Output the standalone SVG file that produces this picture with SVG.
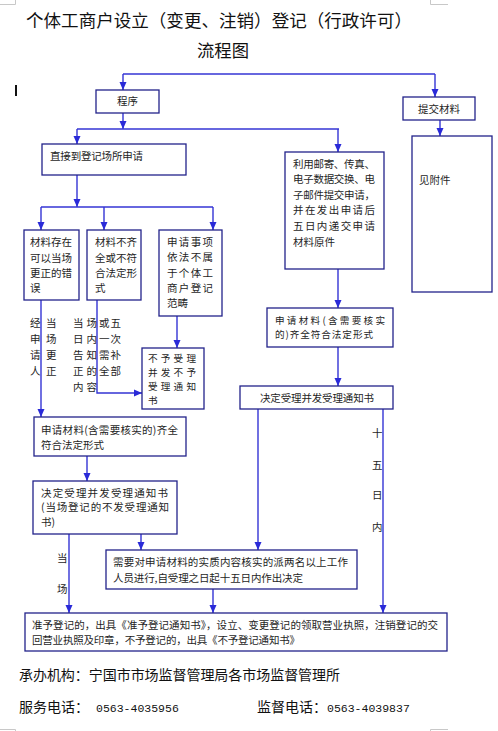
<svg xmlns="http://www.w3.org/2000/svg" width="498" height="731" viewBox="0 0 498 731">
<style>
.bx{fill:#fff;stroke:#23238a;stroke-width:1.3}
.cn{fill:none;stroke:#3434d4;stroke-width:1.4}
.t{font-family:"Noto Sans CJK SC","Noto Sans",sans-serif;font-size:10.5px;fill:#1e1e1e}
.t2{font-family:"Noto Sans CJK SC","Noto Sans",sans-serif;font-size:9.6px;fill:#1e1e1e}
.ti{font-family:"Noto Sans CJK SC","Noto Sans",sans-serif;font-size:17.5px;fill:#111}
.ft{font-family:"Noto Sans CJK SC","Noto Sans",sans-serif;font-size:14px;fill:#111}
.num{font-family:"Liberation Mono",monospace;font-size:11.5px;fill:#111}
.mk{fill:none;stroke:#c8c8c8;stroke-width:1}
</style>
<defs>
<marker id="ah" markerUnits="userSpaceOnUse" markerWidth="8" markerHeight="8" viewBox="0 0 8 8" refX="8" refY="4" orient="auto">
<path d="M0,0.5 L8,4 L0,7.5 Z" fill="#2a2ad8"/>
</marker>
</defs>
<path class="mk" d="M0,4.5 H15.5 V0 M448,4.5 H430.5 V0 M0,729.5 H15.5 V731 M448,729.5 H430.5 V731"/>
<rect x="15" y="85" width="2" height="11" fill="#111"/>
<text class="ti" x="26" y="26.5" textLength="386" lengthAdjust="spacingAndGlyphs">个体工商户设立（变更、注销）登记（行政许可）</text>
<text class="ti" x="197" y="56.5" textLength="52" lengthAdjust="spacingAndGlyphs">流程图</text>

<g id="connectors">
<path class="cn" d="M123,74 H435"/>
<path class="cn" d="M123,74 V90" marker-end="url(#ah)"/>
<path class="cn" d="M435,74 V97" marker-end="url(#ah)"/>
<path class="cn" d="M123,113 V129" marker-end="url(#ah)"/>
<path class="cn" d="M77,129 H339"/>
<path class="cn" d="M77,129 V144" marker-end="url(#ah)"/>
<path class="cn" d="M338,129 V152" marker-end="url(#ah)"/>
<path class="cn" d="M440,120 V136" marker-end="url(#ah)"/>
<path class="cn" d="M77,175 V207" marker-end="url(#ah)"/>
<path class="cn" d="M41,207 H213"/>
<path class="cn" d="M41,207 V230" marker-end="url(#ah)"/>
<path class="cn" d="M104,207 V230" marker-end="url(#ah)"/>
<path class="cn" d="M213,207 V230" marker-end="url(#ah)"/>
<path class="cn" d="M41,300 V417" marker-end="url(#ah)"/>
<path class="cn" d="M97,300 V393 H142" marker-end="url(#ah)"/>
<path class="cn" d="M177,316 V348" marker-end="url(#ah)"/>
<path class="cn" d="M338,269 V308" marker-end="url(#ah)"/>
<path class="cn" d="M338,347 V386" marker-end="url(#ah)"/>
<path class="cn" d="M87,456 V481" marker-end="url(#ah)"/>
<path class="cn" d="M69,534 V613" marker-end="url(#ah)"/>
<path class="cn" d="M141,534 V550" marker-end="url(#ah)"/>
<path class="cn" d="M258,409 V550" marker-end="url(#ah)"/>
<path class="cn" d="M383,409 V613" marker-end="url(#ah)"/>
<path class="cn" d="M213,589 V613" marker-end="url(#ah)"/>
</g>

<g id="labels">
<text class="t" x="30" y="327">经</text>
<text class="t" x="30" y="343">申</text>
<text class="t" x="30" y="359">请</text>
<text class="t" x="30" y="375">人</text>
<text class="t" x="46" y="327">当</text>
<text class="t" x="46" y="343">场</text>
<text class="t" x="46" y="359">更</text>
<text class="t" x="46" y="375">正</text>
<text class="t" x="73" y="327" textLength="24">当场</text>
<text class="t" x="73" y="343" textLength="24">日内</text>
<text class="t" x="73" y="359" textLength="24">告知</text>
<text class="t" x="73" y="375" textLength="24">正的</text>
<text class="t" x="73" y="391" textLength="24">内容</text>
<text class="t" x="99" y="327" textLength="22">或五</text>
<text class="t" x="99" y="343" textLength="22">一次</text>
<text class="t" x="99" y="359" textLength="22">需补</text>
<text class="t" x="99" y="375" textLength="22">全部</text>
<text class="t" x="57" y="562">当</text>
<text class="t" x="57" y="593">场</text>
<text class="t" x="372" y="437">十</text>
<text class="t" x="372" y="469">五</text>
<text class="t" x="372" y="499">日</text>
<text class="t" x="372" y="531">内</text>
</g>

<g id="n-chengxu">
<rect class="bx" x="96" y="90" width="63" height="23"/>
<text class="t" x="127.5" y="105" text-anchor="middle">程序</text>
</g>
<g id="n-tijiao">
<rect class="bx" x="403" y="97" width="72" height="23"/>
<text class="t" x="439" y="113" text-anchor="middle">提交材料</text>
</g>
<g id="n-fujian">
<rect class="bx" x="412" y="136" width="80" height="156"/>
<text class="t" x="419" y="184">见附件</text>
</g>
<g id="n-zhijie">
<rect class="bx" x="42" y="144" width="144" height="31"/>
<text class="t" x="50" y="160" textLength="93">直接到登记场所申请</text>
</g>
<g id="n-youji">
<rect class="bx" x="285" y="152" width="99" height="117"/>
<text class="t" x="293" y="168" textLength="82">利用邮寄、传真、</text>
<text class="t" x="293" y="183" textLength="82">电子数据交换、电</text>
<text class="t" x="293" y="199" textLength="82">子邮件提交申请，</text>
<text class="t" x="293" y="214" textLength="82">并在发出申请后</text>
<text class="t" x="293" y="230" textLength="82">五日内递交申请</text>
<text class="t" x="293" y="246" textLength="42">材料原件</text>
</g>
<g id="n-cuowu">
<rect class="bx" x="24" y="230" width="55" height="70"/>
<text class="t" x="30" y="246" textLength="42">材料存在</text>
<text class="t" x="30" y="261.5" textLength="42">可以当场</text>
<text class="t" x="30" y="277" textLength="42">更正的错</text>
<text class="t" x="30" y="292">误</text>
</g>
<g id="n-buqi">
<rect class="bx" x="87" y="230" width="54" height="70"/>
<text class="t" x="95" y="246" textLength="42">材料不齐</text>
<text class="t" x="95" y="261.5" textLength="42">全或不符</text>
<text class="t" x="95" y="277" textLength="42">合法定形</text>
<text class="t" x="95" y="292">式</text>
</g>
<g id="n-fanchou">
<rect class="bx" x="159" y="230" width="63" height="86"/>
<text class="t" x="167" y="246" textLength="46">申请事项</text>
<text class="t" x="167" y="261" textLength="46">依法不属</text>
<text class="t" x="167" y="277" textLength="46">于个体工</text>
<text class="t" x="167" y="292" textLength="46">商户登记</text>
<text class="t" x="167" y="307">范畴</text>
</g>
<g id="n-buyu">
<rect class="bx" x="142" y="348" width="62" height="61"/>
<text class="t2" x="148" y="362" textLength="48">不予受理</text>
<text class="t2" x="148" y="376" textLength="48">并发不予</text>
<text class="t2" x="148" y="390" textLength="48">受理通知</text>
<text class="t2" x="148" y="404">书</text>
</g>
<g id="n-qiquan-r">
<rect class="bx" x="267" y="308" width="126" height="39"/>
<text class="t2" x="275" y="324" textLength="110">申请材料(含需要核实</text>
<text class="t2" x="275" y="338" textLength="98">的)齐全符合法定形式</text>
</g>
<g id="n-jueding-r">
<rect class="bx" x="240" y="386" width="153" height="23"/>
<text class="t" x="260" y="402" textLength="114">决定受理并发受理通知书</text>
</g>
<g id="n-qiquan-l">
<rect class="bx" x="34" y="417" width="152" height="39"/>
<text class="t" x="41" y="434" textLength="137">申请材料(含需要核实的)齐全</text>
<text class="t" x="41" y="449" textLength="63">符合法定形式</text>
</g>
<g id="n-jueding-l">
<rect class="bx" x="33" y="481" width="144" height="53"/>
<text class="t" x="41" y="497" textLength="127">决定受理并发受理通知书</text>
<text class="t" x="41" y="511" textLength="128">(当场登记的不发受理通知</text>
<text class="t" x="41" y="526">书)</text>
</g>
<g id="n-hexhi">
<rect class="bx" x="106" y="550" width="251" height="39"/>
<text class="t" x="113" y="566" textLength="235">需要对申请材料的实质内容核实的派两名以上工作</text>
<text class="t" x="113" y="582" textLength="190">人员进行,自受理之日起十五日内作出决定</text>
</g>
<g id="n-final">
<rect class="bx" x="25" y="613" width="422" height="38"/>
<text class="t" x="32" y="629" textLength="406">准予登记的，出具《准予登记通知书》，设立、变更登记的领取营业执照，注销登记的交</text>
<text class="t" x="32" y="644" textLength="268">回营业执照及印章，不予登记的，出具《不予登记通知书》</text>
</g>

<text class="ft" x="19" y="680" textLength="321">承办机构：宁国市市场监督管理局各市场监督管理所</text>
<text class="ft" x="19" y="712">服务电话：</text>
<text class="num" x="96" y="712">0563-4035956</text>
<text class="ft" x="257" y="712">监督电话：</text>
<text class="num" x="327" y="712">0563-4039837</text>
</svg>
